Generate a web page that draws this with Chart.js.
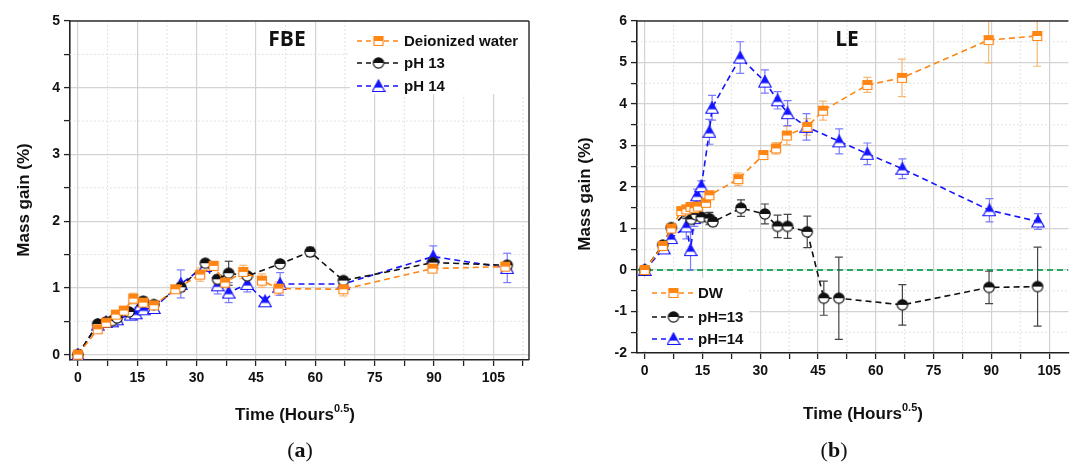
<!DOCTYPE html>
<html>
<head>
<meta charset="utf-8">
<script src="https://cdn.jsdelivr.net/npm/chart.js@4"></script>
<style>
  body { margin: 0; background: #fff; width: 1076px; height: 465px; overflow: hidden; position: relative; }
  canvas { position: absolute; top: 0; }
  #fbe { left: 0; }
  #le { left: 540px; }
  .cap { position: absolute; top: 437px; width: 60px; text-align: center;
         font-family: "Liberation Serif", "DejaVu Serif", serif; font-size: 22px; color: #111; }
</style>
</head>
<body>
<canvas id="fbe" width="540" height="465"></canvas>
<canvas id="le" width="536" height="465"></canvas>
<div class="cap" style="left:270px">(<b>a</b>)</div>
<div class="cap" style="left:804px">(<b>b</b>)</div>
<script>
// ---- (a) FBE ----
const fbeDWX  = [0, 5, 7.1, 9.6, 11.6, 14, 16.5, 19.2, 24.6, 30.9, 34.3, 37.2, 41.8, 46.5, 50.7, 67.1, 89.6, 108];
const fbeDWY  = [0, 0.38, 0.48, 0.6, 0.66, 0.84, 0.78, 0.74, 0.98, 1.2, 1.33, 1.08, 1.24, 1.11, 0.99, 0.98, 1.29, 1.32];
const fbeDWE  = [0, 0.05, 0.04, 0.05, 0.05, 0.08, 0.06, 0.05, 0.05, 0.1, 0.07, 0.08, 0.1, 0.1, 0.1, 0.1, 0.05, 0.05];
const fbe13X  = [0, 5, 7.1, 8.7, 9.9, 12.9, 16.5, 19.2, 26, 32.2, 35.3, 38.1, 42.8, 51.1, 58.7, 67.1, 89.8, 108.5];
const fbe13Y  = [0, 0.46, 0.49, 0.51, 0.55, 0.64, 0.8, 0.75, 1.01, 1.37, 1.13, 1.22, 1.18, 1.36, 1.54, 1.11, 1.38, 1.34];
const fbe13E  = [0, 0.03, 0.03, 0.03, 0.03, 0.04, 0.06, 0.05, 0.06, 0.04, 0.05, 0.18, 0.05, 0.04, 0.07, 0.05, 0.06, 0.05];
const fbe14X  = [0, 5, 7.1, 8.7, 9.9, 13.3, 14.6, 15.8, 16.6, 19.2, 26, 32.2, 35.3, 38.1, 42.8, 47.3, 51.1, 67.1, 89.8, 108.5];
const fbe14Y  = [0, 0.45, 0.49, 0.5, 0.53, 0.6, 0.62, 0.74, 0.68, 0.7, 1.06, 1.33, 1.04, 0.93, 1.06, 0.8, 1.06, 1.06, 1.47, 1.3];
const fbe14E  = [0, 0.03, 0.03, 0.04, 0.04, 0.05, 0.05, 0.06, 0.05, 0.06, 0.21, 0.04, 0.13, 0.15, 0.12, 0.06, 0.17, 0.06, 0.16, 0.22];
const fbeLabels = ['Deionized water', 'pH 13', 'pH 14'];
const fbeXTicks = [0, 7.5, 15, 22.5, 30, 37.5, 45, 52.5, 60, 67.5, 75, 82.5, 90, 97.5, 105, 112.5];
const fbeYTicks = [0, 0.5, 1, 1.5, 2, 2.5, 3, 3.5, 4, 4.5, 5];

// ---- (b) LE ----
const leDWX = [0, 4.7, 6.9, 9.5, 10.8, 11.9, 12.9, 13.8, 15.9, 16.8, 24.3, 30.8, 34.1, 36.9, 42.2, 46.3, 57.8, 66.8, 89.3, 101.9];
const leDWY = [0, 0.58, 1.0, 1.42, 1.46, 1.52, 1.49, 1.53, 1.62, 1.8, 2.19, 2.77, 2.93, 3.24, 3.45, 3.84, 4.46, 4.63, 5.54, 5.64];
const leDWE = [0, 0.05, 0.05, 0.08, 0.1, 0.1, 0.08, 0.1, 0.1, 0.1, 0.15, 0.05, 0.14, 0.22, 0.2, 0.23, 0.18, 0.45, 0.55, 0.73];
const le13X = [0, 4.7, 6.9, 10.8, 12.1, 13.3, 14.7, 16.8, 17.7, 25, 31.2, 34.5, 37.1, 42.2, 46.5, 50.4, 66.9, 89.4, 102];
const le13Y = [0, 0.6, 1.02, 1.39, 1.22, 1.33, 1.27, 1.24, 1.16, 1.49, 1.35, 1.05, 1.05, 0.92, -0.68, -0.68, -0.84, -0.42, -0.4];
const le13E = [0, 0.05, 0.06, 0.15, 0.1, 0.08, 0.1, 0.15, 0.1, 0.2, 0.24, 0.27, 0.29, 0.38, 0.41, 0.99, 0.49, 0.39, 0.95];
const le14X = [0, 5, 6.9, 10.8, 11.9, 12.9, 13.6, 14.7, 16.8, 17.5, 24.8, 31.2, 34.5, 37.1, 42, 50.5, 57.8, 66.9, 89.5, 102.1];
const le14Y = [0, 0.52, 0.77, 1.05, 0.48, 1.25, 1.8, 2.02, 3.33, 3.91, 5.12, 4.54, 4.09, 3.78, 3.45, 3.1, 2.8, 2.44, 1.44, 1.17];
const le14E = [0, 0.05, 0.06, 0.3, 0.48, 0.2, 0.15, 0.13, 0.3, 0.3, 0.38, 0.28, 0.21, 0.3, 0.32, 0.3, 0.26, 0.24, 0.28, 0.19];
const leLabels = ['DW', 'pH=13', 'pH=14'];
const leXTicks = [0, 7.5, 15, 22.5, 30, 37.5, 45, 52.5, 60, 67.5, 75, 82.5, 90, 97.5, 105];
const leYTicks = [-2, -1.5, -1, -0.5, 0, 0.5, 1, 1.5, 2, 2.5, 3, 3.5, 4, 4.5, 5, 5.5, 6];

const ORANGE = '#ff8514', ORANGE_ERR = '#f6b873';
const BLACK = '#111111', BLACK_ERR = '#444444';
const BLUE = '#1414ff', BLUE_ERR = '#7a7aff';

Chart.defaults.font.family = '"Liberation Sans", Arial, sans-serif';
Chart.defaults.color = '#111';

// half-filled markers
function marker(shape, fill, edge) {
  const c = document.createElement('canvas');
  c.width = 14; c.height = 14;
  const g = c.getContext('2d');
  const path = () => {
    g.beginPath();
    if (shape === 'rect') g.rect(2.5, 2.5, 9, 9);
    else if (shape === 'circle') g.arc(7, 7, 5.2, 0, Math.PI * 2);
    else { g.moveTo(7, 1); g.lineTo(13.2, 12.5); g.lineTo(0.8, 12.5); g.closePath(); }
  };
  path(); g.fillStyle = '#fff'; g.fill();
  g.save(); path(); g.clip();
  g.fillStyle = fill; g.fillRect(0, 0, 14, shape === 'tri' ? 8.6 : 7);
  g.restore();
  path(); g.strokeStyle = edge; g.lineWidth = 1.2; g.stroke();
  return c;
}
const mkDW = marker('rect', ORANGE, ORANGE);
const mk13 = marker('circle', BLACK, BLACK);
const mk14 = marker('tri', BLUE, BLUE);

function pts(xs, ys) { return xs.map((v, i) => ({ x: v, y: ys[i] })); }

function series(label, xs, ys, errs, color, errColor, img) {
  return {
    label, data: pts(xs, ys), errors: errs, errColor,
    borderColor: color, backgroundColor: color, borderWidth: 1.6,
    borderDash: [6, 4], pointStyle: img, pointRadius: 6, tension: 0, fill: false
  };
}

function line(ctx, x1, y1, x2, y2) { ctx.beginPath(); ctx.moveTo(x1, y1); ctx.lineTo(x2, y2); ctx.stroke(); }

const decor = {
  id: 'decor',
  beforeDatasetsDraw(chart, args, o) {
    const { ctx, chartArea: a, scales: { x, y } } = chart;
    ctx.save();
    ctx.beginPath(); ctx.rect(a.left, a.top, a.right - a.left, a.bottom - a.top); ctx.clip();
    // minor dotted grid
    ctx.strokeStyle = '#d9d9d9'; ctx.lineWidth = 1; ctx.setLineDash([1.5, 2.5]);
    x.ticks.forEach(t => { if (t.value % 15 !== 0) { const p = x.getPixelForValue(t.value); line(ctx, p, a.top, p, a.bottom); } });
    y.ticks.forEach(t => { if (t.value % 1 !== 0) { const p = y.getPixelForValue(t.value); line(ctx, a.left, p, a.right, p); } });
    if (o.zeroLine) {
      ctx.strokeStyle = '#25a862'; ctx.lineWidth = 2; ctx.setLineDash([6, 4]);
      const p = y.getPixelForValue(0);
      line(ctx, a.left, p, a.right, p);
    }
    // legend background
    if (o.legendBox) {
      const b = o.legendBox;
      ctx.fillStyle = '#fff'; ctx.fillRect(b[0], b[1], b[2], b[3]);
    }
    // error bars
    ctx.setLineDash([]); ctx.lineWidth = 1.2;
    chart.data.datasets.forEach(ds => {
      ctx.strokeStyle = ds.errColor;
      ds.data.forEach((pt, j) => {
        const e = ds.errors[j];
        if (!e) return;
        const px = x.getPixelForValue(pt.x);
        const t = y.getPixelForValue(pt.y + e), b = y.getPixelForValue(pt.y - e);
        line(ctx, px, t, px, b);
        line(ctx, px - 4, t, px + 4, t);
        line(ctx, px - 4, b, px + 4, b);
      });
    });
    ctx.restore();
  },
  afterDatasetsDraw(chart, args, o) {
    const { ctx } = chart;
    ctx.save();
    const L = o.legend;
    chart.data.datasets.forEach((ds, i) => {
      const yy = L.rows[i];
      ctx.strokeStyle = ds.borderColor; ctx.lineWidth = 1.6; ctx.setLineDash([5, 4]);
      line(ctx, L.x0, yy, L.x1, yy);
      ctx.setLineDash([]);
      const img = ds.pointStyle;
      ctx.drawImage(img, (L.x0 + L.x1) / 2 - img.width / 2, yy - img.height / 2);
      ctx.fillStyle = '#111'; ctx.font = 'bold 15px "Liberation Sans", Arial, sans-serif';
      ctx.textBaseline = 'middle'; ctx.textAlign = 'left';
      ctx.fillText(ds.label, L.tx, yy + 1);
    });
    // panel label
    ctx.font = 'bold 21px "Open Sans", "Liberation Sans", sans-serif';
    ctx.textAlign = 'center';
    ctx.fillText(o.panel.text, o.panel.x, o.panel.y);
    ctx.restore();
  },
  afterDraw(chart, args, o) {
    const { ctx, chartArea: a } = chart;
    ctx.save();
    ctx.strokeStyle = '#333'; ctx.lineWidth = 1.5;
    line(ctx, a.left, a.top, a.right, a.top);
    if (o.rightBorder) line(ctx, a.right, a.top, a.right, a.bottom);
    // y title
    ctx.fillStyle = '#111';
    ctx.font = 'bold 17px "Liberation Sans", Arial, sans-serif';
    ctx.textAlign = 'center'; ctx.textBaseline = 'middle';
    ctx.translate(o.yTitle.x, o.yTitle.y); ctx.rotate(-Math.PI / 2);
    ctx.fillText('Mass gain (%)', 0, 0);
    ctx.setTransform(1, 0, 0, 1, 0, 0);
    // x title with superscript
    const main = 'Time (Hours', sup = '0.5', end = ')';
    ctx.textAlign = 'left'; ctx.textBaseline = 'alphabetic';
    ctx.font = 'bold 17px "Liberation Sans", Arial, sans-serif';
    const w1 = ctx.measureText(main).width, w3 = ctx.measureText(end).width;
    ctx.font = 'bold 11px "Liberation Sans", Arial, sans-serif';
    const w2 = ctx.measureText(sup).width;
    let sx = o.xTitle.x - (w1 + w2 + w3) / 2;
    const base = o.xTitle.y + 6;
    ctx.font = 'bold 17px "Liberation Sans", Arial, sans-serif';
    ctx.fillText(main, sx, base);
    ctx.font = 'bold 11px "Liberation Sans", Arial, sans-serif';
    ctx.fillText(sup, sx + w1, base - 8);
    ctx.font = 'bold 17px "Liberation Sans", Arial, sans-serif';
    ctx.fillText(end, sx + w1 + w2, base);
    ctx.restore();
  }
};

function axes(xmin, xmax, xTicks, ymin, ymax, yTicks, yWidth, xHeight) {
  const tickFont = { size: 14, weight: 'bold' };
  return {
    x: {
      type: 'linear', min: xmin, max: xmax,
      afterBuildTicks: s => { s.ticks = xTicks.map(v => ({ value: v })); },
      afterFit: s => { s.height = xHeight; },
      ticks: { font: tickFont, color: '#111', padding: 4, maxRotation: 0, autoSkip: false,
               callback: v => (v % 15 === 0 ? v : '') },
      grid: { color: c => (c.tick && c.tick.value % 15 === 0 ? '#d3d3d3' : 'rgba(0,0,0,0)'),
              lineWidth: 1.2, tickColor: '#222', tickLength: 6, tickWidth: 1.3 },
      border: { color: '#222', width: 1.6 }
    },
    y: {
      type: 'linear', min: ymin, max: ymax,
      afterBuildTicks: s => { s.ticks = yTicks.map(v => ({ value: v })); },
      afterFit: s => { s.width = yWidth; },
      ticks: { font: tickFont, color: '#111', padding: 4, autoSkip: false,
               callback: v => (v % 1 === 0 ? v : '') },
      grid: { color: c => (c.tick && c.tick.value % 1 === 0 ? '#d3d3d3' : 'rgba(0,0,0,0)'),
              lineWidth: 1.2, tickColor: '#222', tickLength: 6, tickWidth: 1.3 },
      border: { color: '#222', width: 1.6 }
    }
  };
}

new Chart(document.getElementById('fbe'), {
  type: 'line',
  data: {
    datasets: [
      series(fbeLabels[0], fbeDWX, fbeDWY, fbeDWE, ORANGE, ORANGE_ERR, mkDW),
      series(fbeLabels[1], fbe13X, fbe13Y, fbe13E, BLACK, BLACK_ERR, mk13),
      series(fbeLabels[2], fbe14X, fbe14Y, fbe14E, BLUE, BLUE_ERR, mk14)
    ]
  },
  options: {
    responsive: false, animation: false,
    layout: { padding: { left: 0, top: 21, right: 11, bottom: 0 } },
    scales: axes(-2, 114, fbeXTicks, -0.08, 5, fbeYTicks, 70, 105),
    plugins: {
      legend: { display: false }, tooltip: { enabled: false },
      decor: {
        zeroLine: false, rightBorder: true,
        legendBox: [350, 22, 178, 72],
        legend: { x0: 357, x1: 400, tx: 404, rows: [41, 63, 86] },
        panel: { text: 'FBE', x: 287, y: 40 },
        yTitle: { x: 24, y: 200 },
        xTitle: { x: 295, y: 414 }
      }
    }
  },
  plugins: [decor]
});

new Chart(document.getElementById('le'), {
  type: 'line',
  data: {
    datasets: [
      series(leLabels[0], leDWX, leDWY, leDWE, ORANGE, ORANGE_ERR, mkDW),
      series(leLabels[1], le13X, le13Y, le13E, BLACK, BLACK_ERR, mk13),
      series(leLabels[2], le14X, le14Y, le14E, BLUE, BLUE_ERR, mk14)
    ]
  },
  options: {
    responsive: false, animation: false,
    layout: { padding: { left: 0, top: 21, right: 4, bottom: 0 } },
    scales: axes(-2, 110, leXTicks, -2, 6, leYTicks, 97, 112),
    plugins: {
      legend: { display: false }, tooltip: { enabled: false },
      decor: {
        zeroLine: true, rightBorder: false,
        legendBox: [99, 278, 110, 73],
        legend: { x0: 112, x1: 155, tx: 158, rows: [293, 317, 339] },
        panel: { text: 'LE', x: 307, y: 40 },
        yTitle: { x: 45, y: 194 },
        xTitle: { x: 323, y: 413 }
      }
    }
  },
  plugins: [decor]
});
</script>
</body>
</html>
